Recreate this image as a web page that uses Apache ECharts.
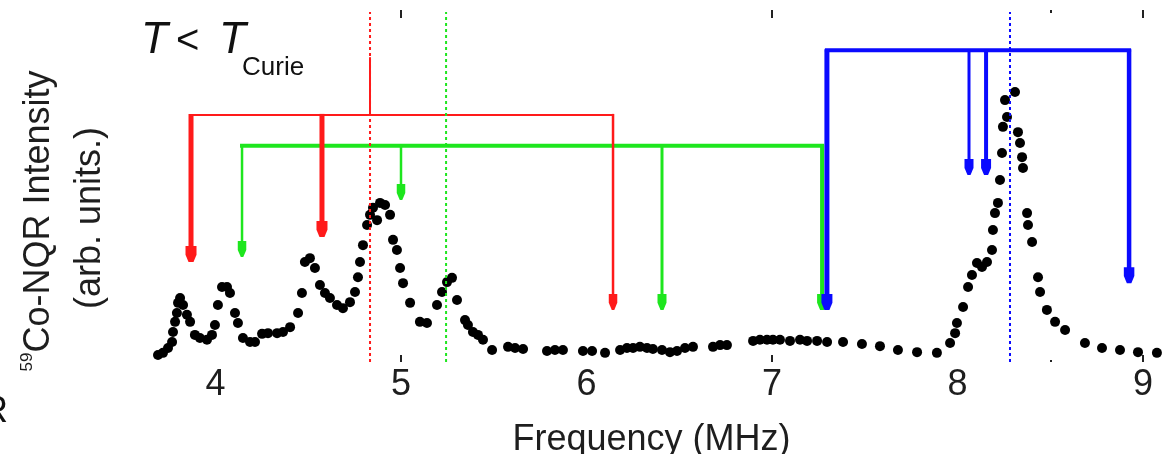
<!DOCTYPE html>
<html>
<head>
<meta charset="utf-8">
<script src="https://cdn.jsdelivr.net/npm/echarts@6/dist/echarts.min.js"></script>
<style>
  html, body { margin: 0; padding: 0; background: #fff; }
  #chart { width: 1164px; height: 454px; }
</style>
</head>
<body>
<div id="chart"></div>
<script>
// 59Co-NQR spectrum below the Curie temperature
const freq = [
  3.690, 3.717, 3.744, 3.766, 3.771, 3.782, 3.792, 3.798, 3.809, 3.825,
  3.846, 3.863, 3.889, 3.916, 3.954, 3.981, 3.997, 4.013, 4.035, 4.062,
  4.078, 4.105, 4.121, 4.148, 4.186, 4.213, 4.251, 4.283, 4.332, 4.364,
  4.402, 4.445, 4.466, 4.482, 4.509, 4.536, 4.563, 4.590, 4.617, 4.655,
  4.687, 4.725, 4.752, 4.768, 4.779, 4.795, 4.817, 4.833, 4.849, 4.871,
  4.887, 4.914, 4.941, 4.957, 4.978, 4.995, 5.011, 5.049, 5.102, 5.140,
  5.194, 5.221, 5.248, 5.275, 5.302, 5.345, 5.361, 5.388, 5.415, 5.442,
  5.491, 5.577, 5.615, 5.658, 5.787, 5.830, 5.873, 5.981, 6.030, 6.100,
  6.181, 6.218, 6.251, 6.288, 6.326, 6.358, 6.407, 6.450, 6.488, 6.531,
  6.574, 6.682, 6.720, 6.757, 6.898, 6.935, 6.973, 7.005, 7.043, 7.097,
  7.151, 7.189, 7.243, 7.297, 7.383, 7.485, 7.582, 7.679, 7.782, 7.889,
  7.960, 7.987, 7.997, 8.030, 8.057, 8.078, 8.105, 8.132, 8.159, 8.186,
  8.191, 8.202, 8.218, 8.229, 8.240, 8.245, 8.267, 8.256, 8.310, 8.326,
  8.337, 8.348, 8.353, 8.375, 8.380, 8.402, 8.434, 8.445, 8.482, 8.526,
  8.580, 8.687, 8.779, 8.876, 8.973, 9.075
];
const intensity = [
  2.0, 2.6, 4.0, 5.7, 8.5, 11.4, 13.9, 16.8, 18.2, 16.2,
  13.4, 11.4, 7.7, 6.8, 6.3, 7.7, 10.5, 16.2, 21.3, 21.3,
  19.6, 13.9, 11.1, 6.8, 5.7, 5.7, 8.0, 8.2, 8.2, 8.5,
  9.9, 13.9, 19.6, 28.4, 29.5, 26.7, 21.9, 19.6, 18.2, 16.2,
  15.3, 17.0, 19.9, 24.1, 28.4, 33.2, 38.9, 41.8, 43.8, 40.3,
  45.2, 44.6, 41.8, 34.7, 31.8, 26.7, 22.4, 16.8, 11.4, 11.1,
  16.2, 19.9, 22.7, 23.9, 17.6, 11.9, 10.5, 8.5, 7.7, 6.3,
  3.4, 4.3, 4.0, 3.7, 3.1, 3.4, 3.4, 3.1, 3.1, 2.6,
  3.4, 4.0, 4.0, 4.3, 4.0, 3.7, 3.4, 2.8, 3.1, 4.0,
  4.3, 4.3, 4.8, 4.8, 6.0, 6.3, 6.3, 6.3, 6.3, 6.0,
  6.3, 6.0, 6.0, 5.7, 5.7, 5.1, 4.5, 3.4, 2.8, 2.6,
  5.4, 8.2, 11.1, 15.6, 21.3, 24.7, 28.1, 27.0, 28.4, 31.8,
  37.5, 42.3, 45.2, 51.7, 59.4, 66.8, 69.6, 74.4, 76.7, 65.3,
  62.2, 58.2, 55.1, 42.3, 38.9, 34.1, 24.1, 19.9, 14.8, 11.4,
  9.1, 5.4, 4.0, 3.4, 2.8, 2.6
];

// axis ticks and labels (MHz)
const xLabels = [4, 5, 6, 7, 8, 9];
const xTicks = [5, 7, 9];
const xMinorTicks = [8.5];

// line assignments: drop positions (MHz), arrow tips and bracket heights (arb. units)
const redFreqs = [3.868, 4.574, 6.143];
const redTips = [28.4, 35.5, 14.8];
const redLevel = 70.2;
const redCentre = 4.833;
const redStemTop = 86.6;

const greenFreqs = [4.143, 5.000, 6.407, 7.270];
const greenTips = [29.8, 46.0, 14.8, 14.8];
const greenLevel = 61.4;
const greenCentre = 5.243;

const blueFreqs = [7.296, 8.062, 8.154, 8.925];
const blueTips = [14.8, 53.1, 53.1, 22.4];
const blueLevel = 88.6;
const blueCentre = 8.283;

const guideTop = 99.4;

const RED = '#ff1a1a', GREEN = '#1ee61e', BLUE = '#0a0aff';
const FONT = 'Liberation Sans, Arial, sans-serif';

function bracket(freqs, level, color, width) {
  return {
    type: 'line', xAxisIndex: 0, yAxisIndex: 0, z: 4, silent: true,
    symbol: 'none', animation: false,
    lineStyle: { color: color, width: width, cap: 'square' },
    data: [[Math.min(...freqs), level], [Math.max(...freqs), level]]
  };
}

function vline(f, y0, y1, color, width, type, z) {
  return {
    type: 'line', xAxisIndex: 0, yAxisIndex: 0, z: z, silent: true,
    symbol: 'none', animation: false,
    lineStyle: { color: color, width: width, type: type, dashOffset: 0 },
    data: [[f, y0], [f, y1]]
  };
}

function arrows(freqs, tips, level, color, widths) {
  return {
    type: 'custom', xAxisIndex: 0, yAxisIndex: 0, z: 5, silent: true,
    animation: false,
    data: freqs.map((f, i) => [f, level, tips[i]]),
    renderItem: function (params, api) {
      const top = api.coord([api.value(0), api.value(1)]);
      const tip = api.coord([api.value(0), api.value(2)]);
      const w = widths[params.dataIndex];
      const hw = w / 2 + 3;
      const hh = 16;
      const x = tip[0];
      return {
        type: 'group',
        children: [
          { type: 'line',
            shape: { x1: x, y1: top[1] - (w > 2 ? 1 : 0), x2: x, y2: tip[1] - hh + 2 },
            style: { stroke: color, lineWidth: w } },
          { type: 'polygon',
            shape: { points: [[x - hw, tip[1] - hh], [x + hw, tip[1] - hh],
                              [x + hw, tip[1] - hh * 0.45], [x + w / 2, tip[1]],
                              [x - w / 2, tip[1]], [x - hw, tip[1] - hh * 0.45]] },
            style: { fill: color } }
        ]
      };
    }
  };
}

const xBase = {
  type: 'value', min: 3.6, max: 9.1,
  axisLine: { show: false }, splitLine: { show: false }
};
const tickStyle = { color: '#222', width: 2 };

const chart = echarts.init(document.getElementById('chart'), null, { renderer: 'canvas' });
chart.setOption({
  animation: false,
  backgroundColor: '#ffffff',
  grid: { left: 141.3, right: 2.45, top: 10, bottom: 92, containLabel: false, outerBoundsMode: 'none' },
  xAxis: [
    Object.assign({}, xBase, {
      position: 'bottom',
      axisTick: { show: true, inside: true, length: 7, customValues: xTicks, lineStyle: tickStyle },
      axisLabel: { show: true, customValues: xLabels, fontSize: 36, fontFamily: FONT, color: '#1e1e1e', margin: 5 },
      name: 'Frequency (MHz)', nameLocation: 'middle', nameGap: 60, nameMoveOverlap: false,
      nameTextStyle: { fontSize: 36, fontFamily: FONT, color: '#1e1e1e' }
    }),
    Object.assign({}, xBase, {
      position: 'top',
      axisTick: { show: true, inside: true, length: 8, customValues: xTicks, lineStyle: tickStyle },
      axisLabel: { show: false }
    }),
    Object.assign({}, xBase, {
      position: 'bottom',
      axisTick: { show: true, inside: true, length: 2, customValues: xMinorTicks, lineStyle: tickStyle },
      axisLabel: { show: false }
    }),
    Object.assign({}, xBase, {
      position: 'top',
      axisTick: { show: true, inside: true, length: 3, customValues: xMinorTicks, lineStyle: tickStyle },
      axisLabel: { show: false }
    })
  ],
  yAxis: {
    type: 'value', min: 0, max: 100, show: false
  },
  graphic: [
    { type: 'text', x: 39, y: 221, rotation: Math.PI / 2, z: 10,
      style: { text: '{sup|59}{m|Co-NQR Intensity}', align: 'center', verticalAlign: 'middle',
               rich: { sup: { fontSize: 17, fontFamily: FONT, fill: '#1e1e1e', verticalAlign: 'top', lineHeight: 40 },
                       m: { fontSize: 36, fontFamily: FONT, fill: '#1e1e1e', lineHeight: 40 } } } },
    { type: 'text', x: 90, y: 218, rotation: Math.PI / 2, z: 10,
      style: { text: '(arb. units.)', align: 'center', verticalAlign: 'middle',
               fontSize: 36, fontFamily: FONT, fill: '#1e1e1e' } },
    // T < T_Curie
    { type: 'text', x: 141, y: 41, z: 10,
      style: { text: 'T', align: 'left', verticalAlign: 'middle',
               fontSize: 44, fontStyle: 'italic', fontFamily: FONT, fill: '#111' } },
    { type: 'text', x: 176, y: 42, z: 10,
      style: { text: '<', align: 'left', verticalAlign: 'middle',
               fontSize: 40, fontFamily: FONT, fill: '#111' } },
    { type: 'text', x: 219, y: 41, z: 10,
      style: { text: 'T', align: 'left', verticalAlign: 'middle',
               fontSize: 44, fontStyle: 'italic', fontFamily: FONT, fill: '#111' } },
    { type: 'text', x: 242, y: 68, z: 10,
      style: { text: 'Curie', align: 'left', verticalAlign: 'middle',
               fontSize: 26, fontFamily: FONT, fill: '#111' } },
    { type: 'text', x: 8, y: 412, z: 10,
      style: { text: 'R', align: 'right', verticalAlign: 'middle',
               fontSize: 36, fontFamily: FONT, fill: '#111' } }
  ],
  series: [
    {
      type: 'scatter', xAxisIndex: 0, yAxisIndex: 0, z: 2, silent: true,
      symbol: 'circle', symbolSize: 10,
      itemStyle: { color: '#000', opacity: 1 },
      data: freq.map((f, i) => [f, intensity[i]])
    },
    // dotted centre guides
    vline(redCentre, 0, guideTop, RED, 2, [3, 3], 6),
    vline(greenCentre, 0, guideTop, GREEN, 2, [3, 3], 6),
    vline(blueCentre, 0, guideTop, BLUE, 2, [3, 3], 6),
    // stem above the red bracket
    vline(redCentre, redLevel, redStemTop, RED, 2, 'solid', 5),
    // brackets and arrows
    bracket(redFreqs, redLevel, RED, 2),
    arrows(redFreqs, redTips, redLevel, RED, [5, 5, 2.5]),
    bracket(greenFreqs, greenLevel, GREEN, 4),
    arrows(greenFreqs, greenTips, greenLevel, GREEN, [2.5, 2.5, 3, 4]),
    bracket(blueFreqs, blueLevel, BLUE, 4),
    arrows(blueFreqs, blueTips, blueLevel, BLUE, [5, 3, 4, 4.5])
  ]
});
</script>
</body>
</html>
